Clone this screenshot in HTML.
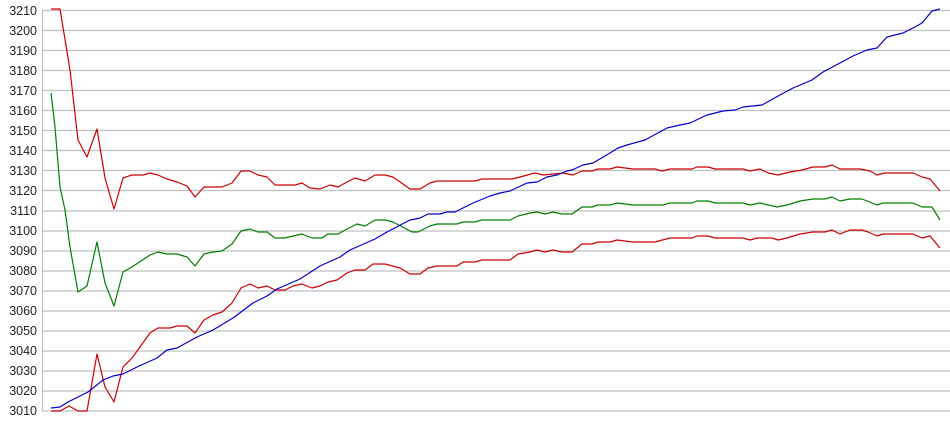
<!DOCTYPE html>
<html><head><meta charset="utf-8"><style>
html,body{margin:0;padding:0;background:#fff;}
svg{display:block;}
text{font-family:"Liberation Sans",sans-serif;font-size:12.5px;fill:#222;}
</style></head><body>
<svg width="950" height="435" viewBox="0 0 950 435" xmlns="http://www.w3.org/2000/svg">
<g stroke="#c0c0c0" stroke-width="1.2">
<line x1="42" y1="10.5" x2="950" y2="10.5"/>
<line x1="42" y1="30.5" x2="950" y2="30.5"/>
<line x1="42" y1="50.5" x2="950" y2="50.5"/>
<line x1="42" y1="70.5" x2="950" y2="70.5"/>
<line x1="42" y1="90.5" x2="950" y2="90.5"/>
<line x1="42" y1="110.5" x2="950" y2="110.5"/>
<line x1="42" y1="130.5" x2="950" y2="130.5"/>
<line x1="42" y1="150.5" x2="950" y2="150.5"/>
<line x1="42" y1="170.5" x2="950" y2="170.5"/>
<line x1="42" y1="190.5" x2="950" y2="190.5"/>
<line x1="42" y1="211" x2="950" y2="211"/>
<line x1="42" y1="231" x2="950" y2="231"/>
<line x1="42" y1="251" x2="950" y2="251"/>
<line x1="42" y1="271" x2="950" y2="271"/>
<line x1="42" y1="291" x2="950" y2="291"/>
<line x1="42" y1="311" x2="950" y2="311"/>
<line x1="42" y1="331" x2="950" y2="331"/>
<line x1="42" y1="351" x2="950" y2="351"/>
<line x1="42" y1="371" x2="950" y2="371"/>
<line x1="42" y1="391" x2="950" y2="391"/>
<line x1="42" y1="411" x2="950" y2="411"/>
<line x1="42.5" y1="10" x2="42.5" y2="411"/>
</g>
<g text-anchor="end">
<text x="37" y="15">3210</text><text x="37" y="35">3200</text><text x="37" y="55">3190</text>
<text x="37" y="75">3180</text><text x="37" y="95">3170</text><text x="37" y="115">3160</text>
<text x="37" y="135">3150</text><text x="37" y="155">3140</text><text x="37" y="175">3130</text>
<text x="37" y="195">3120</text><text x="37" y="215">3110</text><text x="37" y="235">3100</text>
<text x="37" y="255">3090</text><text x="37" y="275">3080</text><text x="37" y="295">3070</text>
<text x="37" y="315">3060</text><text x="37" y="335">3050</text><text x="37" y="355">3040</text>
<text x="37" y="375">3030</text><text x="37" y="395">3020</text><text x="37" y="415">3010</text>
</g>
<g fill="none" stroke-width="1.2" stroke-linejoin="round">
<polyline stroke="#cc0000" points="51,9 60,9 70,70 78,140 87,157 97,129 105,178 114,209 123,178 132,175 143,175 150,173 158,175 167,179 177,182 187,186 195,197 204,187 222,187 232,183 241,171 250,171 258,175 267,177 275,185 295,185 302,183 310,188 320,189 330,185 338,187 347,182 355,178 365,181 375,175 385,175 393,177 410,189 420,189 430,183 437,181 475,181 482,179 512,179 520,177 535,173 543,175 563,173 573,175 582,171 592,171 598,169 610,169 617,167 633,169 655,169 662,171 670,169 692,169 697,167 708,167 715,169 743,169 750,171 760,169 768,173 778,175 790,172 802,170 813,167 825,167 832,165 840,169 860,169 870,171 877,175 885,173 913,173 922,177 930,179 940,191"/>
<polyline stroke="#008000" points="51,93 55,127 60,187 65,210 70,247 78,292 87,286 97,242 105,283 114,306 123,272 132,267 150,255 158,252 167,254 177,254 187,257 195,266 204,254 213,252 222,251 232,244 241,231 250,229 258,232 267,232 275,238 285,238 293,236 302,234 312,238 322,238 328,234 338,234 347,229 357,224 365,226 375,220 385,220 393,222 412,232 418,232 430,226 437,224 457,224 463,222 475,222 482,220 510,220 518,216 530,213 537,212 545,214 553,212 562,214 572,214 582,207 592,207 598,205 610,205 617,203 633,205 663,205 670,203 692,203 697,201 708,201 715,203 743,203 750,205 760,203 777,207 787,205 800,201 813,199 825,199 832,197 840,201 850,199 862,199 877,205 883,203 913,203 922,207 932,207 940,220"/>
<polyline stroke="#cc0000" points="51,411 60,411 69,406 78,411 87,411 97,354 105,387 114,402 123,367 132,358 140,347 150,333 158,328 170,328 177,326 187,326 195,333 204,320 213,315 222,312 232,303 241,288 250,284 258,288 267,286 275,290 285,290 293,286 302,284 312,288 320,286 328,282 337,280 347,273 355,270 365,270 373,264 385,264 400,268 410,274 420,274 428,268 437,266 457,266 463,262 475,262 482,260 510,260 518,254 530,252 537,250 545,252 553,250 562,252 572,252 582,244 592,244 598,242 610,242 617,240 633,242 655,242 670,238 692,238 697,236 708,236 715,238 743,238 750,240 757,238 772,238 778,240 787,238 800,234 813,232 825,232 832,230 840,234 850,230 862,230 868,232 877,236 883,234 913,234 922,238 930,236 940,248"/>
<polyline stroke="#0000cc" points="51,408 60,407 68,402 88,392 103,380 113,376 123,374 137,367 157,358 167,350 177,348 197,337 213,330 233,318 253,303 267,296 277,289 300,279 320,266 340,257 350,250 375,239 387,232 410,220 420,218 428,214 440,214 447,212 455,212 473,203 490,196 500,193 510,191 527,183 537,182 547,177 557,175 567,171 572,170 583,165 593,163 610,153 618,148 627,145 645,140 667,128 680,125 690,123 707,115 723,111 735,110 743,107 762,105 780,95 793,88 812,80 823,72 840,63 853,56 867,50 877,48 887,37 903,33 913,28 922,23 932,11 940,9"/>
</g>
</svg>
</body></html>
